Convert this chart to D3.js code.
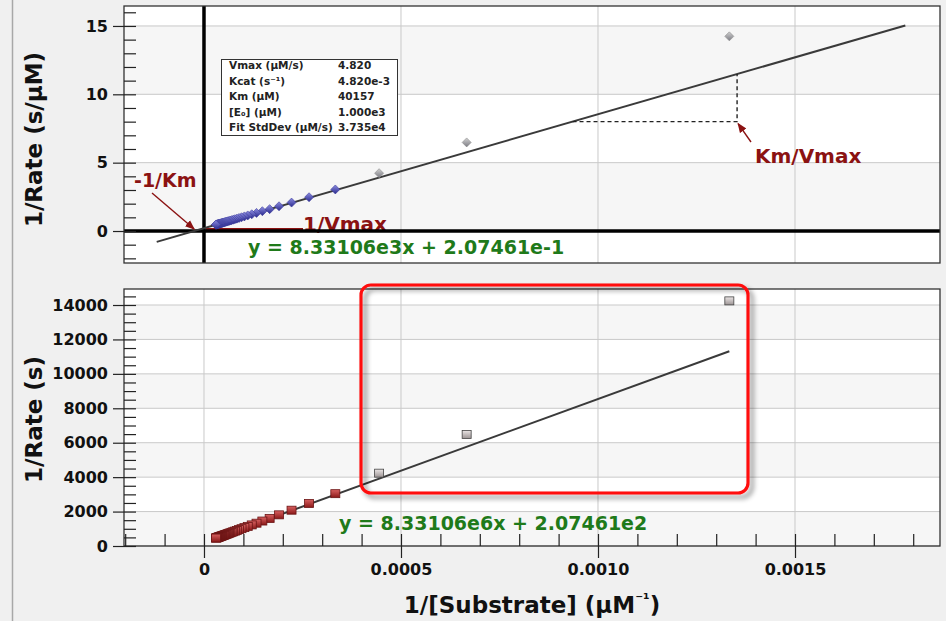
<!DOCTYPE html>
<html>
<head>
<meta charset="utf-8">
<script src="https://cdn.jsdelivr.net/npm/d3@7"></script>
<style>
  html, body { margin: 0; padding: 0; background: #f0f0f0; }
  svg { display: block; font-family: "DejaVu Sans", "Liberation Sans", sans-serif; }
</style>
</head>
<body>
<svg id="chart" width="946" height="621"></svg>
<script>
// Substrate concentrations (µM) and measured reciprocal rates (s)
const substrateUM = [750, 1500, 2250, 3000, 3750, 4500, 5250, 6000, 6750, 7500,
  8250, 9000, 9750, 10500, 11250, 12000, 12750, 13500, 14250, 15000,
  15750, 16500, 17250, 18000, 18750, 19500, 20250, 21000, 21750, 22500,
  23250, 24000, 24750, 25500, 26250, 27000, 27750, 28500, 29250, 30000,
  30750, 31500, 32250, 33000];
const invRateS = [14240, 6480, 4230, 3040, 2470, 2080, 1810, 1600, 1450, 1325,
  1225, 1140, 1068, 1006, 952, 905, 864, 828, 795, 765,
  738, 713, 691, 670, 652, 634, 619, 604, 591, 578,
  566, 555, 545, 535, 525, 516, 508, 500, 493, 486,
  479, 472, 466, 460];
// points left out of the fit
const excludedSubstrate = [750, 1500, 2250];
const enzymeUM = 1000;

// linear fit of 1/Rate (s) against 1/[S]
const fitSlope = 8.33106e6;
const fitIntercept = 2.07461e2;
const eqTopText = "y = 8.33106e3x + 2.07461e-1";
const eqBottomText = "y = 8.33106e6x + 2.07461e2";

// axes
const xMajorTicks = [0, 0.0005, 0.0010, 0.0015];
const xTickLabels = ["0", "0.0005", "0.0010", "0.0015"];
const xMinorTicks = [-0.0002, -0.0001, 0, 0.0001, 0.0002, 0.0003, 0.0004, 0.0005, 0.0006, 0.0007,
  0.0008, 0.0009, 0.0010, 0.0011, 0.0012, 0.0013, 0.0014, 0.0015, 0.0016, 0.0017, 0.0018];
const topYTicks = [0, 5, 10, 15];
const topYMinor = [-2, -1, 0, 1, 2, 3, 4, 5, 6, 7, 8, 9, 10, 11, 12, 13, 14, 15, 16];
const bottomYTicks = [0, 2000, 4000, 6000, 8000, 10000, 12000, 14000];
const bottomYMinor = [0, 500, 1000, 1500, 2000, 2500, 3000, 3500, 4000, 4500, 5000, 5500, 6000, 6500,
  7000, 7500, 8000, 8500, 9000, 9500, 10000, 10500, 11000, 11500, 12000, 12500, 13000, 13500, 14000, 14500];

// kinetic parameter table
const paramNames = ["Vmax (µM/s)", "Kcat (s⁻¹)", "Km (µM)", "[E₀] (µM)", "Fit StdDev (µM/s)"];
const paramValues = ["4.820", "4.820e-3", "40157", "1.000e3", "3.735e4"];

const svg = d3.select("#chart");
const W = 946, H = 621;
const DARKRED = "#8b1212", GREEN = "#1f7a1a";

svg.append("rect").attr("width", W).attr("height", H).attr("fill", "#f0f0f0");
svg.append("line").attr("x1", 12.5).attr("x2", 12.5).attr("y1", 0).attr("y2", H)
  .attr("stroke", "#a8a8a8").attr("stroke-width", 1.5);

const defs = svg.append("defs");
function grad(id, c1, c2) {
  const g = defs.append("linearGradient").attr("id", id).attr("x1", 0).attr("y1", 0).attr("x2", 0).attr("y2", 1);
  g.append("stop").attr("offset", "0%").attr("stop-color", c1);
  g.append("stop").attr("offset", "100%").attr("stop-color", c2);
}
grad("gBlue", "#8c8ce0", "#2b2b8f");
grad("gGrayD", "#d0d0d0", "#7c7c84");
grad("gRed", "#d86060", "#8a1818");
grad("gGrayS", "#ebe6e6", "#9c9494");
const sh = defs.append("filter").attr("id", "shadow").attr("x", "-10%").attr("y", "-10%").attr("width", "130%").attr("height", "130%");
sh.append("feDropShadow").attr("dx", 4).attr("dy", 4).attr("stdDeviation", 2.5)
  .attr("flood-color", "#000").attr("flood-opacity", 0.45);
const mk = defs.append("marker").attr("id", "arrow").attr("viewBox", "0 0 10 10")
  .attr("refX", 9).attr("refY", 5).attr("markerWidth", 7).attr("markerHeight", 7)
  .attr("orient", "auto-start-reverse");
mk.append("path").attr("d", "M0,1 L10,5 L0,9 Z").attr("fill", DARKRED);

const L = 124, R = 940;
const x = d3.scaleLinear().domain([-0.000203, 0.001868]).range([L, R]);
const yTop = d3.scaleLinear().domain([-2.34, 16.46]).range([263, 6]);
const yBot = d3.scaleLinear().domain([0, 14930]).range([546, 289]);

const pts = substrateUM.map((s, i) => ({
  ix: 1 / s,
  yS: invRateS[i],
  yTop: invRateS[i] / enzymeUM,
  excluded: excludedSubstrate.includes(s)
}));

function panel(y, majors) {
  const g = svg.append("g");
  const [y0, y1] = y.range();
  g.append("rect").attr("x", L).attr("y", y1).attr("width", R - L).attr("height", y0 - y1).attr("fill", "#fff");
  // alternating bands between major ticks
  for (let i = 0; i < majors.length - 1; i++) {
    if (i % 2 === 0) {
      g.append("rect").attr("x", L).attr("width", R - L)
        .attr("y", y(majors[i + 1])).attr("height", y(majors[i]) - y(majors[i + 1]))
        .attr("fill", "#f6f6f6");
    }
  }
  // grid
  g.selectAll(".hg").data(majors).enter().append("line")
    .attr("x1", L).attr("x2", R).attr("y1", d => y(d)).attr("y2", d => y(d))
    .attr("stroke", "#c9c9c9").attr("stroke-width", 1);
  g.selectAll(".vg").data(xMajorTicks).enter().append("line")
    .attr("x1", d => x(d)).attr("x2", d => x(d)).attr("y1", y1).attr("y2", y0)
    .attr("stroke", "#c9c9c9").attr("stroke-width", 1);
  return g;
}

function frame(y) {
  const [y0, y1] = y.range();
  svg.append("rect").attr("x", L).attr("y", y1).attr("width", R - L).attr("height", y0 - y1)
    .attr("fill", "none").attr("stroke", "#333").attr("stroke-width", 1.3);
}

function yAxes(y, majors, minors) {
  const inner = svg.append("g").attr("transform", `translate(${L},0)`)
    .call(d3.axisRight(y).tickValues(minors).tickSize(12).tickFormat(""));
  inner.select(".domain").remove();
  inner.selectAll("line").attr("stroke", "#222").attr("stroke-width", 1.2);
  const outer = svg.append("g").attr("transform", `translate(${L},0)`)
    .call(d3.axisLeft(y).tickValues(majors).tickSize(11).tickPadding(5).tickFormat(d3.format("d")));
  outer.select(".domain").remove();
  outer.selectAll("line").attr("stroke", "#222").attr("stroke-width", 1.2);
  outer.selectAll("text").attr("font-size", 16).attr("font-weight", "bold")
    .attr("fill", "#111").attr("font-family", "DejaVu Sans");
}

// ---------- top panel: 1/Rate (s/µM) ----------
panel(yTop, topYTicks);

// 1/Vmax marker along the x axis
svg.append("text").attr("x", 303).attr("y", 231).attr("fill", DARKRED)
  .attr("font-size", 20).attr("font-weight", "bold").text("1/Vmax");
svg.append("line").attr("x1", x(0) + 2).attr("x2", 303).attr("y1", yTop(0) - 2).attr("y2", yTop(0) - 2)
  .attr("stroke", DARKRED).attr("stroke-width", 2.2);

// origin axes
svg.append("line").attr("x1", L).attr("x2", R).attr("y1", yTop(0)).attr("y2", yTop(0))
  .attr("stroke", "#000").attr("stroke-width", 3.5);
svg.append("line").attr("x1", x(0)).attr("x2", x(0)).attr("y1", yTop.range()[1]).attr("y2", yTop.range()[0])
  .attr("stroke", "#000").attr("stroke-width", 3.5);

// fitted line, extended to the x intercept
const topLineX = [-0.00012, 0.00178];
svg.append("path")
  .datum(topLineX.map(v => [v, (fitSlope * v + fitIntercept) / enzymeUM]))
  .attr("d", d3.line().x(d => x(d[0])).y(d => yTop(d[1])))
  .attr("stroke", "#3a3a3a").attr("stroke-width", 2).attr("fill", "none");

// slope triangle (Km/Vmax)
const triX = 0.001353, triY = 8.0;
const triX0 = (triY * enzymeUM - fitIntercept) / fitSlope;
svg.append("path")
  .attr("d", `M${x(triX0)},${yTop(triY)} L${x(triX)},${yTop(triY)} L${x(triX)},${yTop((fitSlope * triX + fitIntercept) / enzymeUM)}`)
  .attr("fill", "none").attr("stroke", "#222").attr("stroke-width", 1.4).attr("stroke-dasharray", "4,3");

// points
const diamond = "M0,-4.5 L4.5,0 L0,4.5 L-4.5,0 Z";
svg.append("g").selectAll("path").data(pts).enter().append("path")
  .attr("d", diamond)
  .attr("transform", d => `translate(${x(d.ix)},${yTop(d.yTop)})`)
  .attr("fill", d => d.excluded ? "url(#gGrayD)" : "url(#gBlue)")
  .attr("stroke", d => d.excluded ? "#8a8a8a" : "#3a3a9a").attr("stroke-width", 0.6);

frame(yTop);
yAxes(yTop, topYTicks, topYMinor);

// annotations
svg.append("text").attr("x", 134).attr("y", 187).attr("fill", DARKRED)
  .attr("font-size", 19).attr("font-weight", "bold").text("-1/Km");
svg.append("line").attr("x1", 152).attr("y1", 193).attr("x2", x(-fitIntercept / fitSlope)).attr("y2", yTop(0) - 2)
  .attr("stroke", DARKRED).attr("stroke-width", 1.4).attr("marker-end", "url(#arrow)");
svg.append("text").attr("x", 755).attr("y", 163).attr("fill", DARKRED)
  .attr("font-size", 20).attr("font-weight", "bold").text("Km/Vmax");
svg.append("line").attr("x1", 751).attr("y1", 142).attr("x2", x(triX) + 1).attr("y2", yTop(triY) + 2)
  .attr("stroke", DARKRED).attr("stroke-width", 1.4).attr("marker-end", "url(#arrow)");
svg.append("text").attr("x", 248).attr("y", 254).attr("fill", GREEN)
  .attr("font-size", 19).attr("font-weight", "bold").text(eqTopText);

// parameter table
const box = svg.append("g");
box.append("rect").attr("x", 221.5).attr("y", 59.5).attr("width", 176).attr("height", 76)
  .attr("fill", "#fff").attr("stroke", "#333").attr("stroke-width", 1);
paramNames.forEach((n, i) => {
  box.append("text").attr("x", 229).attr("y", 69 + i * 15.5).attr("font-size", 10.5)
    .attr("font-weight", "bold").attr("fill", "#222").text(n);
  box.append("text").attr("x", 338).attr("y", 69 + i * 15.5).attr("font-size", 10.5)
    .attr("font-weight", "bold").attr("fill", "#222").text(paramValues[i]);
});

// y title
svg.append("text").attr("transform", `translate(34,${(yTop.range()[0] + yTop.range()[1]) / 2 + 5}) rotate(-90)`)
  .attr("text-anchor", "middle").attr("dy", "0.35em").attr("font-size", 23).attr("font-weight", "bold")
  .attr("fill", "#111").text("1/Rate (s/µM)");

// ---------- bottom panel: 1/Rate (s) ----------
panel(yBot, bottomYTicks);

svg.append("path")
  .datum(d3.extent(pts, d => d.ix).map(v => [v, fitSlope * v + fitIntercept]))
  .attr("d", d3.line().x(d => x(d[0])).y(d => yBot(d[1])))
  .attr("stroke", "#3a3a3a").attr("stroke-width", 2).attr("fill", "none");

svg.append("g").selectAll("rect").data(pts).enter().append("rect")
  .attr("x", d => x(d.ix) - 4.5).attr("y", d => yBot(d.yS) - 4)
  .attr("width", 9).attr("height", 8)
  .attr("fill", d => d.excluded ? "url(#gGrayS)" : "url(#gRed)")
  .attr("stroke", d => d.excluded ? "#444" : "#6a1414").attr("stroke-width", 0.8);

svg.append("text").attr("x", 339).attr("y", 530).attr("fill", GREEN)
  .attr("font-size", 19).attr("font-weight", "bold").text(eqBottomText);

frame(yBot);
yAxes(yBot, bottomYTicks, bottomYMinor);

// x axis at the bottom
const xin = svg.append("g").attr("transform", `translate(0,546)`)
  .call(d3.axisTop(x).tickValues(xMinorTicks).tickSize(12).tickFormat(""));
xin.select(".domain").remove();
xin.selectAll("line").attr("stroke", "#222").attr("stroke-width", 1.2);
const xout = svg.append("g").attr("transform", `translate(0,546)`)
  .call(d3.axisBottom(x).tickValues(xMajorTicks).tickSize(12).tickPadding(6)
    .tickFormat((d, i) => xTickLabels[i]));
xout.select(".domain").remove();
xout.selectAll("line").attr("stroke", "#222").attr("stroke-width", 1.2);
xout.selectAll("text").attr("font-size", 16).attr("font-weight", "bold").attr("fill", "#111")
  .attr("font-family", "DejaVu Sans");

// highlighted region around the excluded points
svg.append("rect").attr("x", 361).attr("y", 285).attr("width", 387).attr("height", 208)
  .attr("rx", 10).attr("ry", 10).attr("fill", "none")
  .attr("stroke", "#ff0d0d").attr("stroke-width", 3.2).attr("filter", "url(#shadow)");

svg.append("text").attr("transform", `translate(34,${(yBot.range()[0] + yBot.range()[1]) / 2 + 2}) rotate(-90)`)
  .attr("text-anchor", "middle").attr("dy", "0.35em").attr("font-size", 23).attr("font-weight", "bold")
  .attr("fill", "#111").text("1/Rate (s)");

const xt = svg.append("text").attr("x", 532).attr("y", 613).attr("text-anchor", "middle")
  .attr("font-size", 23).attr("font-weight", "bold").attr("fill", "#111");
xt.append("tspan").text("1/[Substrate] (µM");
xt.append("tspan").attr("font-size", 15).attr("dy", -9).text("⁻¹");
xt.append("tspan").attr("dy", 9).text(")");
</script>
</body>
</html>
